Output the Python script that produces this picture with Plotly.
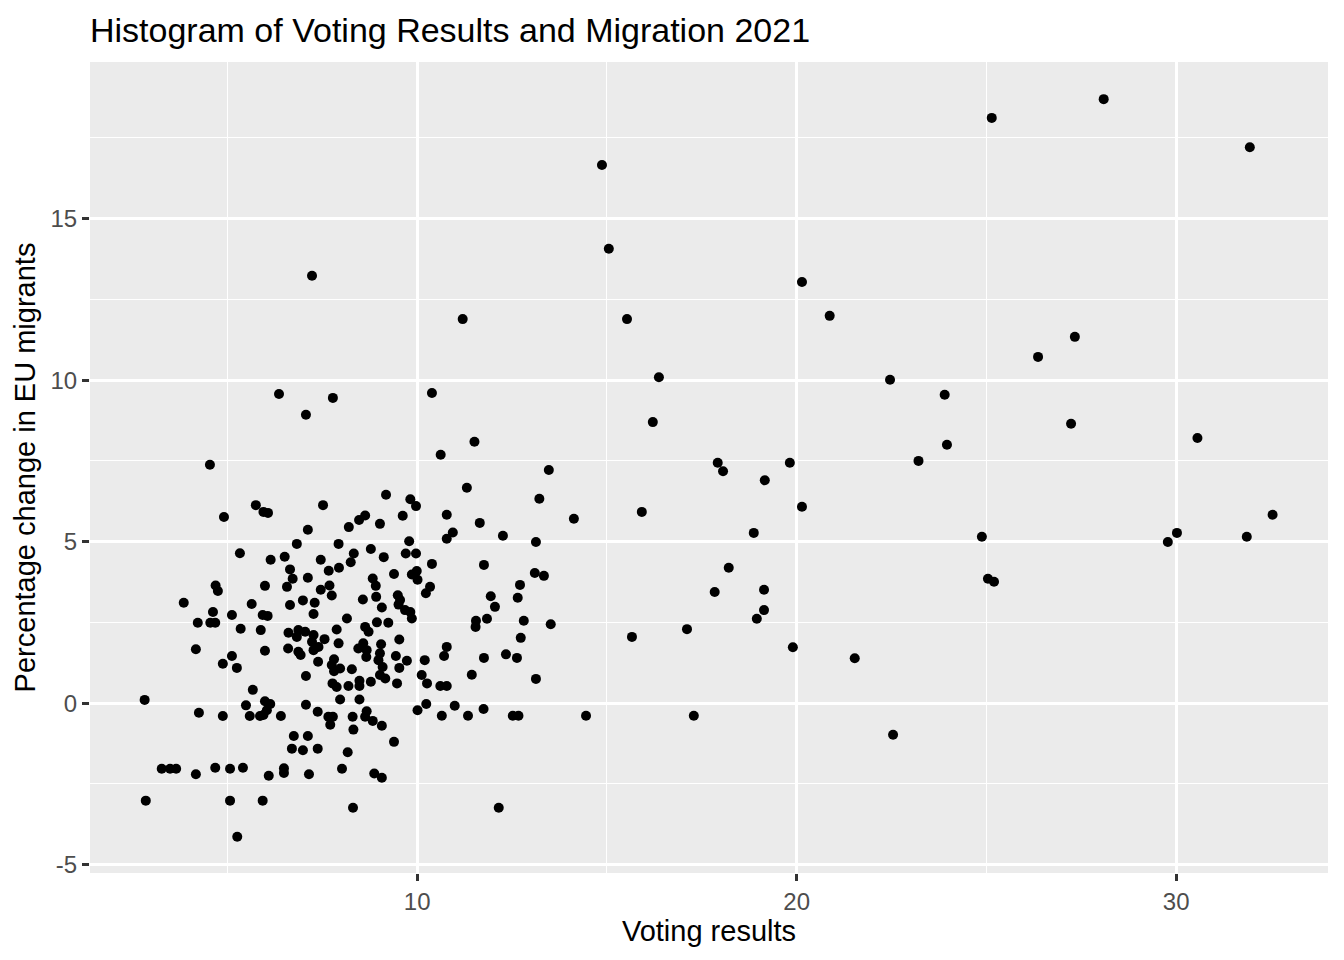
import plotly.graph_objects as go

# voting results (x) and percentage change in EU migrants (y)
voting = [
    7.23, 11.20, 6.36, 7.78, 7.07, 10.39, 11.51, 10.62, 4.54, 13.47,
    14.87, 15.05, 15.53, 16.37, 16.21, 20.14, 20.87, 22.46, 23.90,
    17.92, 18.06, 19.82, 23.21, 23.96, 19.16, 14.13, 15.92, 20.14, 18.87,
    18.21, 17.84, 19.14, 19.14, 18.95, 17.11, 15.66, 19.90, 21.53, 14.45,
    17.29, 22.54,
    25.14, 28.09, 31.94, 27.33, 26.36, 27.23, 30.56, 32.54, 24.88, 30.02,
    29.78, 31.86, 25.04, 25.20,
    11.31, 13.22, 10.78, 11.65, 10.94, 10.78, 12.26, 13.13, 11.76, 13.10,
    13.34, 12.71, 11.94, 12.65, 12.05,
    11.55, 11.54, 11.84, 12.81, 13.52, 12.73, 10.78, 10.71, 11.76, 12.34,
    12.63, 11.44, 13.13, 10.61, 10.78, 10.99, 11.75, 10.65, 11.34, 12.52,
    12.67, 12.15,
    9.18, 9.82, 9.97, 8.63, 8.47, 9.62, 9.02, 8.20, 7.93, 9.79,
    8.78, 8.33, 9.12, 9.70, 9.97, 8.25, 10.39, 7.94, 9.39, 8.83,
    8.91, 9.86, 9.99, 10.01, 10.34, 10.23, 8.57, 8.92, 9.49, 9.55,
    9.07, 9.51, 9.68, 9.82, 9.86,
    8.15, 7.88, 8.63, 8.72, 8.94, 9.24, 9.53, 7.93, 8.58, 8.45,
    8.67, 8.66, 9.05, 9.02, 8.98, 9.44, 9.73, 10.20, 7.81, 7.75,
    7.81, 7.97, 8.28, 9.09, 9.02, 9.16, 9.53, 10.12, 7.77, 8.19,
    8.48, 8.48, 8.78, 9.47, 10.26, 7.97, 8.48, 10.01, 10.24, 7.78,
    8.30, 8.67, 8.63, 8.83, 9.07, 8.32,
    9.39, 8.17, 8.02, 8.87, 9.07, 8.31, 7.71,
    6.61, 6.87, 6.83, 7.05, 7.27, 7.23, 7.56, 6.60, 6.87, 7.27,
    7.40, 6.93, 7.39, 7.07, 7.88,
    5.75, 5.95, 6.07, 7.52, 4.91, 7.12, 6.83, 5.33, 6.14, 6.51,
    7.46, 6.65, 7.67, 6.72, 7.12, 4.69, 4.75, 5.99, 6.57, 7.46,
    7.69, 7.75, 3.85, 5.64, 6.65, 6.99, 7.30, 4.62, 5.12, 5.93,
    6.06, 7.27, 4.22, 4.55, 4.68, 5.35, 5.88,
    4.17, 5.12, 4.88, 5.25, 5.99, 5.67, 2.82, 5.49, 5.99, 6.13,
    6.04, 5.95, 5.86, 5.59, 6.41, 4.25, 4.88, 7.07, 7.38, 7.66,
    6.75, 7.12, 6.70, 6.99, 7.38, 3.27, 3.49, 3.65, 4.17, 4.68,
    5.07, 5.41, 6.09, 6.49, 6.49, 7.15, 2.85, 5.07, 5.93, 5.26,
]

migration = [
    13.23, 11.89, 9.57, 9.45, 8.93, 9.60, 8.09, 7.69, 7.38, 7.22,
    16.66, 14.07, 11.89, 10.09, 8.70, 13.04, 11.99, 10.01, 9.55,
    7.44, 7.18, 7.44, 7.50, 8.00, 6.90, 5.71, 5.92, 6.08, 5.27,
    4.19, 3.44, 3.51, 2.88, 2.61, 2.29, 2.05, 1.73, 1.39, -0.39,
    -0.39, -0.98,
    18.12, 18.70, 17.21, 11.34, 10.72, 8.65, 8.21, 5.83, 5.15, 5.27,
    4.99, 5.15, 3.85, 3.76,
    6.67, 6.33, 5.83, 5.58, 5.28, 5.09, 5.18, 4.99, 4.28, 4.03,
    3.94, 3.66, 3.31, 3.26, 2.98,
    2.55, 2.36, 2.61, 2.55, 2.44, 2.02, 1.74, 1.46, 1.40, 1.51,
    1.40, 0.88, 0.75, 0.53, 0.53, -0.08, -0.18, -0.39, -0.39, -0.39,
    -0.39, -3.24,
    6.45, 6.31, 6.10, 5.81, 5.67, 5.80, 5.55, 5.45, 4.93, 5.01,
    4.77, 4.63, 4.52, 4.63, 4.63, 4.36, 4.31, 4.19, 4.00, 3.86,
    3.63, 3.98, 4.09, 3.82, 3.60, 3.40, 3.21, 3.29, 3.34, 3.19,
    2.96, 3.05, 2.88, 2.82, 2.62,
    2.62, 2.28, 2.36, 2.21, 2.50, 2.49, 1.97, 1.85, 1.85, 1.69,
    1.64, 1.43, 1.82, 1.54, 1.33, 1.46, 1.31, 1.33, 1.36, 1.18,
    0.99, 1.07, 1.05, 1.12, 0.87, 0.76, 1.09, 0.87, 0.61, 0.53,
    0.69, 0.53, 0.66, 0.61, 0.61, 0.11, 0.11, -0.22, -0.03, -0.42,
    -0.42, -0.25, -0.42, -0.55, -0.70, -0.82,
    -1.20, -1.52, -2.03, -2.18, -2.31, -3.24, -0.67,
    2.18, 2.26, 2.05, 2.21, 2.11, 1.90, 1.98, 1.69, 1.59, 1.64,
    1.74, 1.49, 1.28, 0.84, 0.50,
    6.13, 5.92, 5.89, 6.13, 5.76, 5.37, 4.93, 4.64, 4.44, 4.53,
    4.44, 4.14, 4.10, 3.85, 3.88, 3.64, 3.47, 3.63, 3.60, 3.51,
    3.64, 3.33, 3.11, 3.07, 3.04, 3.18, 3.11, 2.82, 2.73, 2.73,
    2.70, 2.76, 2.49, 2.49, 2.49, 2.30, 2.26,
    1.67, 1.46, 1.22, 1.09, 1.62, 0.41, 0.10, -0.07, 0.06, -0.03,
    -0.22, -0.37, -0.40, -0.40, -0.40, -0.30, -0.40, -0.05, -0.27, -0.42,
    -1.02, -1.02, -1.41, -1.46, -1.41, -2.03, -2.03, -2.03, -2.20, -2.00,
    -2.03, -2.00, -2.25, -2.02, -2.16, -2.20, -3.02, -3.02, -3.02, -4.14,
]

y_ticks = [-5, 0, 5, 10, 15]
y_tick_labels = ["-5", "0", "5", "10", "15"]
x_ticks = [10, 20, 30]

fig = go.Figure(go.Scatter(x=voting, y=migration, mode="markers",
                           marker=dict(color="black", size=10),
                           hoverinfo="x+y"))

# the page body adds 8px, so margins are shifted to keep the panel in place
fig.update_layout(
    width=1344, height=960,
    paper_bgcolor="white",
    plot_bgcolor="#EBEBEB",
    font=dict(family="Liberation Sans, Arial, sans-serif", color="black"),
    margin=dict(l=82, r=24, t=54, b=95),
    showlegend=False,
    title=dict(text="Histogram of Voting Results and Migration 2021",
               x=0, xref="paper", xanchor="left",
               y=1 - 22 / 960, yref="container", yanchor="middle",
               font=dict(size=34, color="black")),
)

fig.update_xaxes(
    range=[1.38, 34.0],
    tickvals=x_ticks,
    showgrid=True, gridcolor="white", gridwidth=2.5,
    minor=dict(dtick=5, tick0=0, showgrid=True, gridcolor="white", gridwidth=1.2),
    zeroline=False, showline=False,
    ticks="outside", ticklen=7, tickwidth=2.5, tickcolor="#333333",
    tickfont=dict(size=24, color="#4D4D4D"),
    title=dict(text="Voting results", font=dict(size=29, color="black"), standoff=6),
)

fig.update_yaxes(
    range=[-5.26, 19.85],
    tickvals=y_ticks, ticktext=y_tick_labels,
    showgrid=True, gridcolor="white", gridwidth=2.5,
    minor=dict(dtick=5, tick0=2.5, showgrid=True, gridcolor="white", gridwidth=1.2),
    zeroline=False, showline=False,
    ticks="outside", ticklen=7, tickwidth=2.5, tickcolor="#333333",
    tickfont=dict(size=24, color="#4D4D4D"),
    title=dict(text="Percentage change in EU migrants", font=dict(size=29, color="black"), standoff=6),
)

fig.write_html("out.html")
